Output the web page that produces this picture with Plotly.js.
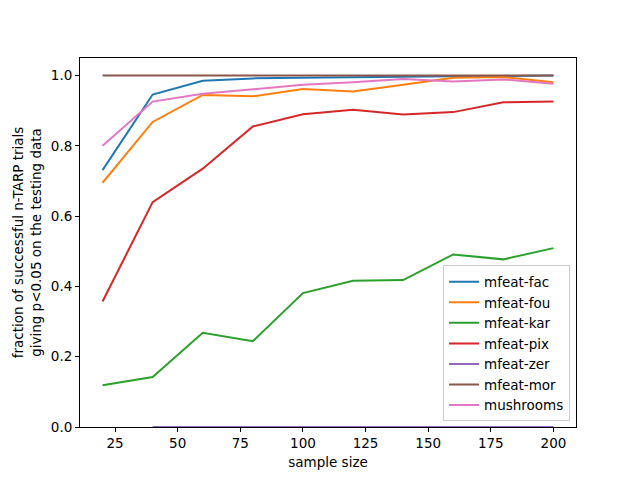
<!DOCTYPE html>
<html><head><meta charset="utf-8">
<script src="https://cdn.plot.ly/plotly-3.0.1.min.js"></script>
<style>body{margin:0}#c{width:640px;height:480px}</style>
</head><body><div id="c"></div>
<script>
const sampleSizes = [20, 40, 60, 80, 100, 120, 140, 160, 180, 200];
const zerSizes = [40, 60, 80, 100, 120, 140, 160, 180, 200];
const mfeatFac = [0.731, 0.946, 0.985, 0.992, 0.994, 0.996, 0.997, 0.998, 0.999, 1.0];
const mfeatFou = [0.695, 0.868, 0.945, 0.941, 0.962, 0.955, 0.974, 0.994, 0.996, 0.981];
const mfeatKar = [0.119, 0.142, 0.268, 0.244, 0.381, 0.416, 0.418, 0.491, 0.477, 0.509];
const mfeatPix = [0.357, 0.640, 0.735, 0.855, 0.890, 0.903, 0.889, 0.896, 0.924, 0.926];
const mfeatZer = [0, 0, 0, 0, 0, 0, 0, 0, 0];
const mfeatMor = [1, 1, 1, 1, 1, 1, 1, 1, 1, 1];
const mushrooms = [0.800, 0.926, 0.948, 0.962, 0.974, 0.981, 0.990, 0.983, 0.989, 0.977];

const names = ['mfeat-fac','mfeat-fou','mfeat-kar','mfeat-pix','mfeat-zer','mfeat-mor','mushrooms'];
const colors = ['#1f77b4','#ff7f0e','#2ca02c','#d62728','#9467bd','#8c564b','#e377c2'];
const xs = [sampleSizes, sampleSizes, sampleSizes, sampleSizes, zerSizes, sampleSizes, sampleSizes];
const ys = [mfeatFac, mfeatFou, mfeatKar, mfeatPix, mfeatZer, mfeatMor, mushrooms];

const traces = names.map((n, i) => ({
  x: xs[i], y: ys[i], name: n, type: 'scatter', mode: 'lines',
  line: {color: colors[i], width: 2}, cliponaxis: true
}));

const font = {family: 'DejaVu Sans', size: 13.5, color: '#000'};
const layout = {
  width: 640, height: 480,
  margin: {l: 80, r: 64, t: 58, b: 53},
  paper_bgcolor: '#fff', plot_bgcolor: '#fff',
  font: font,
  showlegend: true,
  legend: {x: 0.988, y: 0.015, xanchor: 'right', yanchor: 'bottom',
    bgcolor: 'rgba(255,255,255,0.8)', bordercolor: '#cccccc', borderwidth: 1,
    font: {family: 'DejaVu Sans', size: 13.5, color: '#000'}, tracegroupgap: 0,
    entrywidth: 0},
  xaxis: {range: [11, 209], tickmode: 'array', tickvals: [25,50,75,100,125,150,175,200],
    ticks: 'outside', ticklen: 4, tickwidth: 1, tickcolor: '#000',
    showline: true, linecolor: '#000', linewidth: 1, mirror: true,
    showgrid: false, zeroline: false,
    title: {text: 'sample size', font: font, standoff: 7}},
  yaxis: {range: [0, 1.05], tickmode: 'array', tickvals: [0,0.2,0.4,0.6,0.8,1.0],
    ticktext: ['0.0','0.2','0.4','0.6','0.8','1.0'],
    ticks: 'outside', ticklen: 4, tickwidth: 1, tickcolor: '#000',
    showline: true, linecolor: '#000', linewidth: 1, mirror: true,
    showgrid: false, zeroline: false,
    title: {text: 'fraction of successful n-TARP trials<br>giving p&lt;0.05 on the testing data', font: font, standoff: 6}}
};
Plotly.newPlot('c', traces, layout, {displayModeBar: false, staticPlot: true});
</script></body></html>
